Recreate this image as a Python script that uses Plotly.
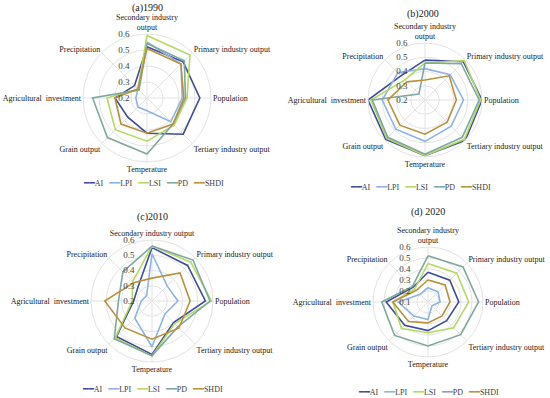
import plotly.graph_objects as go

axes_labels = ["Secondary industry<br>output", "Primary industry output", "Population",
               "Tertiary industry output", "Temperature", "Grain output",
               "Agricultural  investment", "Precipitation"]
axes_labels_c = ["Secondary industry output"] + axes_labels[1:]
angles = [0, 45, 90, 135, 180, 225, 270, 315]
series = ["AI", "LPI", "LSI", "PD", "SHDI"]
colors = ["#3f4c9a", "#8fb4e3", "#b4d965", "#7fa8a0", "#b8913a"]

# (a) 1990
a1990_AI = [0.52, 0.52, 0.53, 0.52, 0.42, 0.37, 0.40, 0.31]
a1990_LPI = [0.55, 0.50, 0.42, 0.41, 0.28, 0.28, 0.27, 0.28]
a1990_LSI = [0.59, 0.58, 0.45, 0.44, 0.47, 0.48, 0.45, 0.28]
a1990_PD = [0.54, 0.53, 0.44, 0.43, 0.55, 0.55, 0.54, 0.27]
a1990_SHDI = [0.51, 0.50, 0.43, 0.43, 0.42, 0.43, 0.40, 0.28]
# (b) 2000
b2000_AI = [0.48, 0.58, 0.60, 0.60, 0.59, 0.59, 0.60, 0.44]
b2000_LPI = [0.42, 0.45, 0.47, 0.46, 0.49, 0.49, 0.50, 0.47]
b2000_LSI = [0.46, 0.59, 0.59, 0.59, 0.59, 0.58, 0.58, 0.40]
b2000_PD = [0.46, 0.56, 0.58, 0.57, 0.58, 0.57, 0.57, 0.26]
b2000_SHDI = [0.34, 0.44, 0.42, 0.42, 0.44, 0.45, 0.46, 0.38]
# (c) 2010
c2010_AI = [0.55, 0.53, 0.55, 0.40, 0.55, 0.53, 0.32, 0.33]
c2010_LPI = [0.51, 0.34, 0.37, 0.32, 0.50, 0.36, 0.27, 0.25]
c2010_LSI = [0.56, 0.56, 0.59, 0.41, 0.56, 0.54, 0.33, 0.38]
c2010_PD = [0.56, 0.58, 0.58, 0.44, 0.56, 0.55, 0.42, 0.47]
c2010_SHDI = [0.35, 0.46, 0.45, 0.45, 0.45, 0.45, 0.51, 0.37]
# (d) 2020
d2020_AI = [0.37, 0.38, 0.38, 0.34, 0.36, 0.40, 0.48, 0.29]
d2020_LPI = [0.23, 0.23, 0.21, 0.15, 0.26, 0.28, 0.37, 0.20]
d2020_LSI = [0.45, 0.47, 0.47, 0.43, 0.38, 0.44, 0.42, 0.27]
d2020_PD = [0.52, 0.55, 0.56, 0.52, 0.50, 0.53, 0.52, 0.30]
d2020_SHDI = [0.30, 0.32, 0.30, 0.28, 0.29, 0.35, 0.42, 0.25]

panels = [
    ("(a)1990", [a1990_AI, a1990_LPI, a1990_LSI, a1990_PD, a1990_SHDI], axes_labels, [0.2, 0.6]),
    ("(b)2000", [b2000_AI, b2000_LPI, b2000_LSI, b2000_PD, b2000_SHDI], axes_labels, [0.2, 0.6]),
    ("(c)2010", [c2010_AI, c2010_LPI, c2010_LSI, c2010_PD, c2010_SHDI], axes_labels_c, [0.2, 0.6]),
    ("(d) 2020", [d2020_AI, d2020_LPI, d2020_LSI, d2020_PD, d2020_SHDI], axes_labels, [0.1, 0.6]),
]

W, H = 550, 398
geom = [(147, 98, 64), (425, 100, 57), (152, 301, 61), (428, 302, 55)]
title_pos = [(147, 8), (423, 14), (152, 217), (428, 212)]
legend_pos = [(153, 183), (420, 187), (152, 389), (428, 392)]

FONT = "Liberation Serif"
fig = go.Figure()

legend_text = "&nbsp;&nbsp;&nbsp;".join(
    f"<span style='color:{c};font-family:DejaVu Sans;font-size:9px'>━━</span>{s}"
    for s, c in zip(series, colors))

PAD = "\u00a0" * 7

for i, (title, data, labels, rng) in enumerate(panels):
    pname = "polar" if i == 0 else f"polar{i+1}"
    for s, vals, col in zip(series, data, colors):
        fig.add_trace(go.Scatterpolar(
            r=vals + [vals[0]], theta=angles + [angles[0]], mode="lines",
            line=dict(color=col, width=1.6), name=s, subplot=pname,
            showlegend=False, hoverinfo="skip"))
    cx, cy, rad = geom[i]
    ticks = [round(rng[0] + 0.1 * k, 1) for k in range(int(round((rng[1] - rng[0]) / 0.1)) + 1)]
    fig.update_layout(**{
        pname: dict(
            domain=dict(x=[(cx - rad) / W, (cx + rad) / W],
                        y=[1 - (cy + rad) / H, 1 - (cy - rad) / H]),
            gridshape="linear",
            bgcolor="white",
            radialaxis=dict(range=rng, tickvals=ticks,
                            ticktext=[f"{t:.1f}{PAD}" for t in ticks],
                            angle=90, tickangle=90, showline=False, ticks="",
                            gridcolor="#e3e3e3", gridwidth=1,
                            tickfont=dict(family=FONT, size=9, color="#404040"),
                            side="counterclockwise"),
            angularaxis=dict(tickmode="array", tickvals=angles, ticktext=labels,
                             rotation=90, direction="clockwise", thetaunit="degrees",
                             showline=True, linecolor="#e3e3e3", gridcolor="#e3e3e3",
                             ticks="", tickfont=dict(family=FONT, size=8, color="#1a1a1a")),
        )})
    fig.add_annotation(text=title, x=title_pos[i][0] / W, y=1 - title_pos[i][1] / H,
                       xref="paper", yref="paper", showarrow=False,
                       xanchor="center", yanchor="middle",
                       font=dict(family=FONT, size=10, color="#1a1a1a"))
    fig.add_annotation(text=legend_text, x=legend_pos[i][0] / W, y=1 - legend_pos[i][1] / H,
                       xref="paper", yref="paper", showarrow=False,
                       xanchor="center", yanchor="middle",
                       font=dict(family=FONT, size=8, color="#404040"))

fig.update_layout(width=W, height=H, margin=dict(l=0, r=0, t=0, b=0),
                  paper_bgcolor="white", showlegend=False)
fig.write_html("out.html", config={"displayModeBar": False},
               post_script="document.body.style.margin='0';")
